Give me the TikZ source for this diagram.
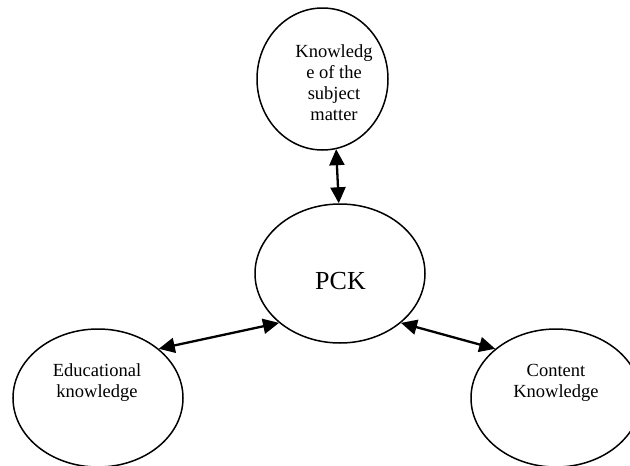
\documentclass[tikz,border=0pt]{standalone}
\usepackage{fontspec}
\setmainfont{Liberation Serif}
\usetikzlibrary{arrows.meta,shapes.geometric}

\tikzset{
  bubble/.style={ellipse, draw=black, line width=1.5pt, inner sep=0pt, fill=white},
  caption/.style={align=center, inner sep=0pt, anchor=base,
    font=\fontsize{18.5pt}{20.8pt}\selectfont},
  bigcaption/.style={inner sep=0pt, anchor=base,
    font=\fontsize{26pt}{30pt}\selectfont},
  link/.style={line width=2.3pt, {Triangle[length=16pt,width=15pt]}-{Triangle[length=16pt,width=15pt]}}
}

\begin{document}
\begin{tikzpicture}[x=1pt, y=-1pt]
  \useasboundingbox (0,0) rectangle (630,466);

  % the four bubbles
  \node[bubble, minimum width=131pt, minimum height=142pt] (subj) at (322.5,79) {};
  \node[bubble, minimum width=170pt, minimum height=139pt] (pck)  at (340,273.5) {};
  \node[bubble, minimum width=170pt, minimum height=138pt] (edu)  at (98,398) {};
  \node[bubble, minimum width=170pt, minimum height=138pt] (cont) at (556,398) {};

  % their texts (placed by the baseline of the last line)
  \node[caption] (subjtext) at (334,120) {Knowledg\\e of the\\subject\\matter};
  \node[bigcaption] (pcktext) at (340.5,289) {PCK};
  \node[caption] (edutext) at (97,397) {Educational\\knowledge};
  \node[caption] (conttext) at (556,397) {Content\\Knowledge};

  % two-way links to the centre
  \draw[link] (subj.281) -- (pck.91);
  \draw[link] (edu.39) -- (pck.219);
  \draw[link] (pck.321) -- (cont.141);
\end{tikzpicture}
\end{document}
